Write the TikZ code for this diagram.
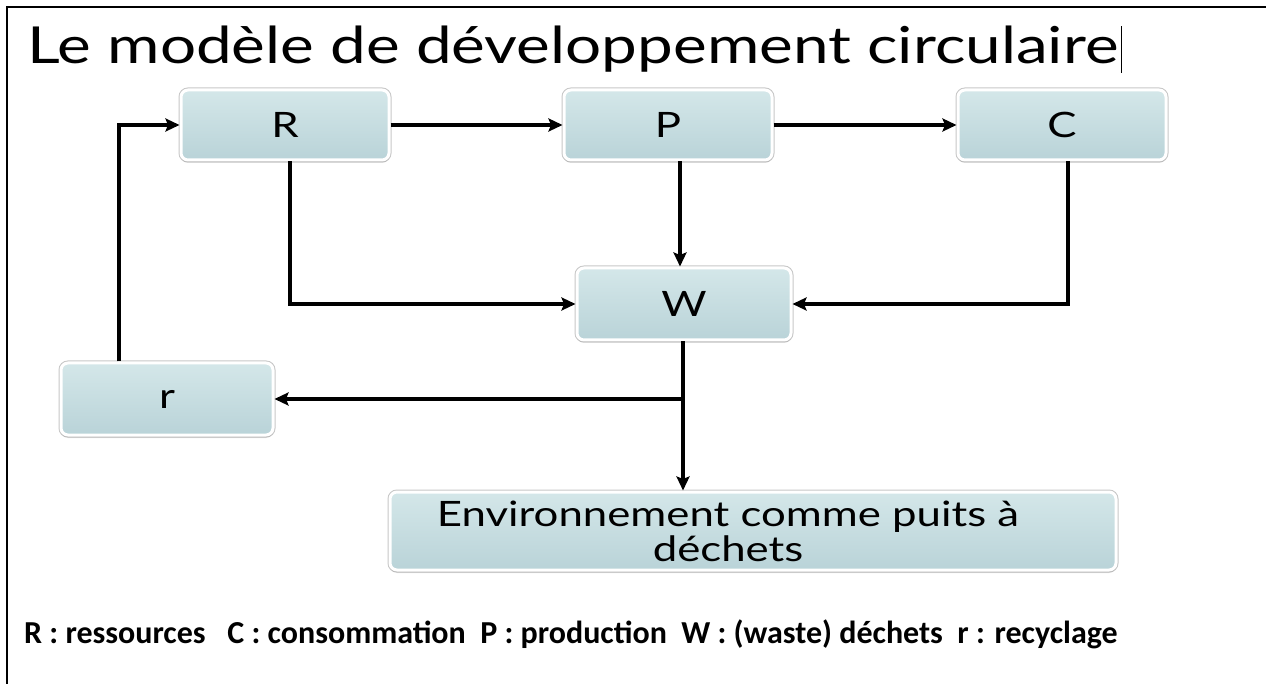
\documentclass[tikz,border=0pt]{standalone}
\usepackage{fontspec}
\usepackage{graphicx}
\setmainfont{Lato}
\newfontfamily\legfont{Carlito}
\usetikzlibrary{arrows.meta,shadows}
\definecolor{boxtop}{HTML}{D4E7E9}
\definecolor{boxbot}{HTML}{B9D3D8}
\newcommand{\etire}[1]{\scalebox{1.25}[1]{#1}}
\tikzset{
  bloc/.style={draw=white,line width=3pt,rounded corners=7pt,
    top color=boxtop,bottom color=boxbot,
    preaction={draw=black!22,line width=5pt},
    drop shadow={shadow xshift=0pt,shadow yshift=-3pt,opacity=0.18},
    minimum width=208pt,minimum height=70pt,inner sep=0pt,
    font=\fontsize{35}{40}\selectfont},
  fleche/.style={line width=3.2pt,-{Stealth[length=14pt,width=13pt,inset=2.5pt]}}
}
\begin{document}
\begin{tikzpicture}[x=1pt,y=-1pt]
\useasboundingbox (0,0) rectangle (1266,684);
\draw[line width=1.2pt] (1266,7) -- (7,7) -- (7,684);
\node[anchor=base west,inner sep=0pt,font=\fontsize{51}{60}\selectfont] (titre) at (27,64) {\etire{Le modèle de développement circulaire}};
\draw[line width=1.5pt] ([xshift=3pt]titre.north east) -- ([xshift=3pt]titre.south east);
\node[bloc] (R) at (285,125) {\etire{R}};
\node[bloc] (P) at (668,125) {\etire{P}};
\node[bloc] (C) at (1062,125) {\etire{C}};
\node[bloc,minimum width=214pt,minimum height=72pt] (W) at (684,304) {\etire{W}};
\node[bloc,minimum width=212pt,minimum height=72pt] (r) at (167,399) {\etire{r}};
\node[bloc,minimum width=726pt,minimum height=78pt,align=center,
  font=\fontsize{35}{35}\selectfont] (E) at (753,531)
  {\etire{Environnement comme puits à}\hspace*{50pt}\\\etire{déchets}\hspace*{50pt}};
\draw[fleche] (R) -- (P);
\draw[fleche] (P) -- (C);
\draw[fleche] ([xshift=12pt]P.south) -- ([xshift=12pt]P.south |- W.north);
\draw[fleche] ([xshift=5pt]R.south) |- (W.west);
\draw[fleche] ([xshift=6pt]C.south) |- (W.east);
\draw[fleche] ([xshift=-1pt]W.south) -- ([xshift=-1pt]W.south |- E.north);
\coordinate (branche) at ([xshift=-1pt]W.south |- r.east);
\draw[fleche] (branche) -- (r.east);
\draw[fleche] ([xshift=-48pt]r.north) |- (R.west);
\node[anchor=base west,inner sep=0pt,font=\legfont\bfseries\fontsize{32}{36}\selectfont] (legende) at (24,643)
  {R : ressources\ \ \ C : consommation\ \ P : production\ \ W : (waste) déchets\ \ r : recyclage};
\end{tikzpicture}
\end{document}
